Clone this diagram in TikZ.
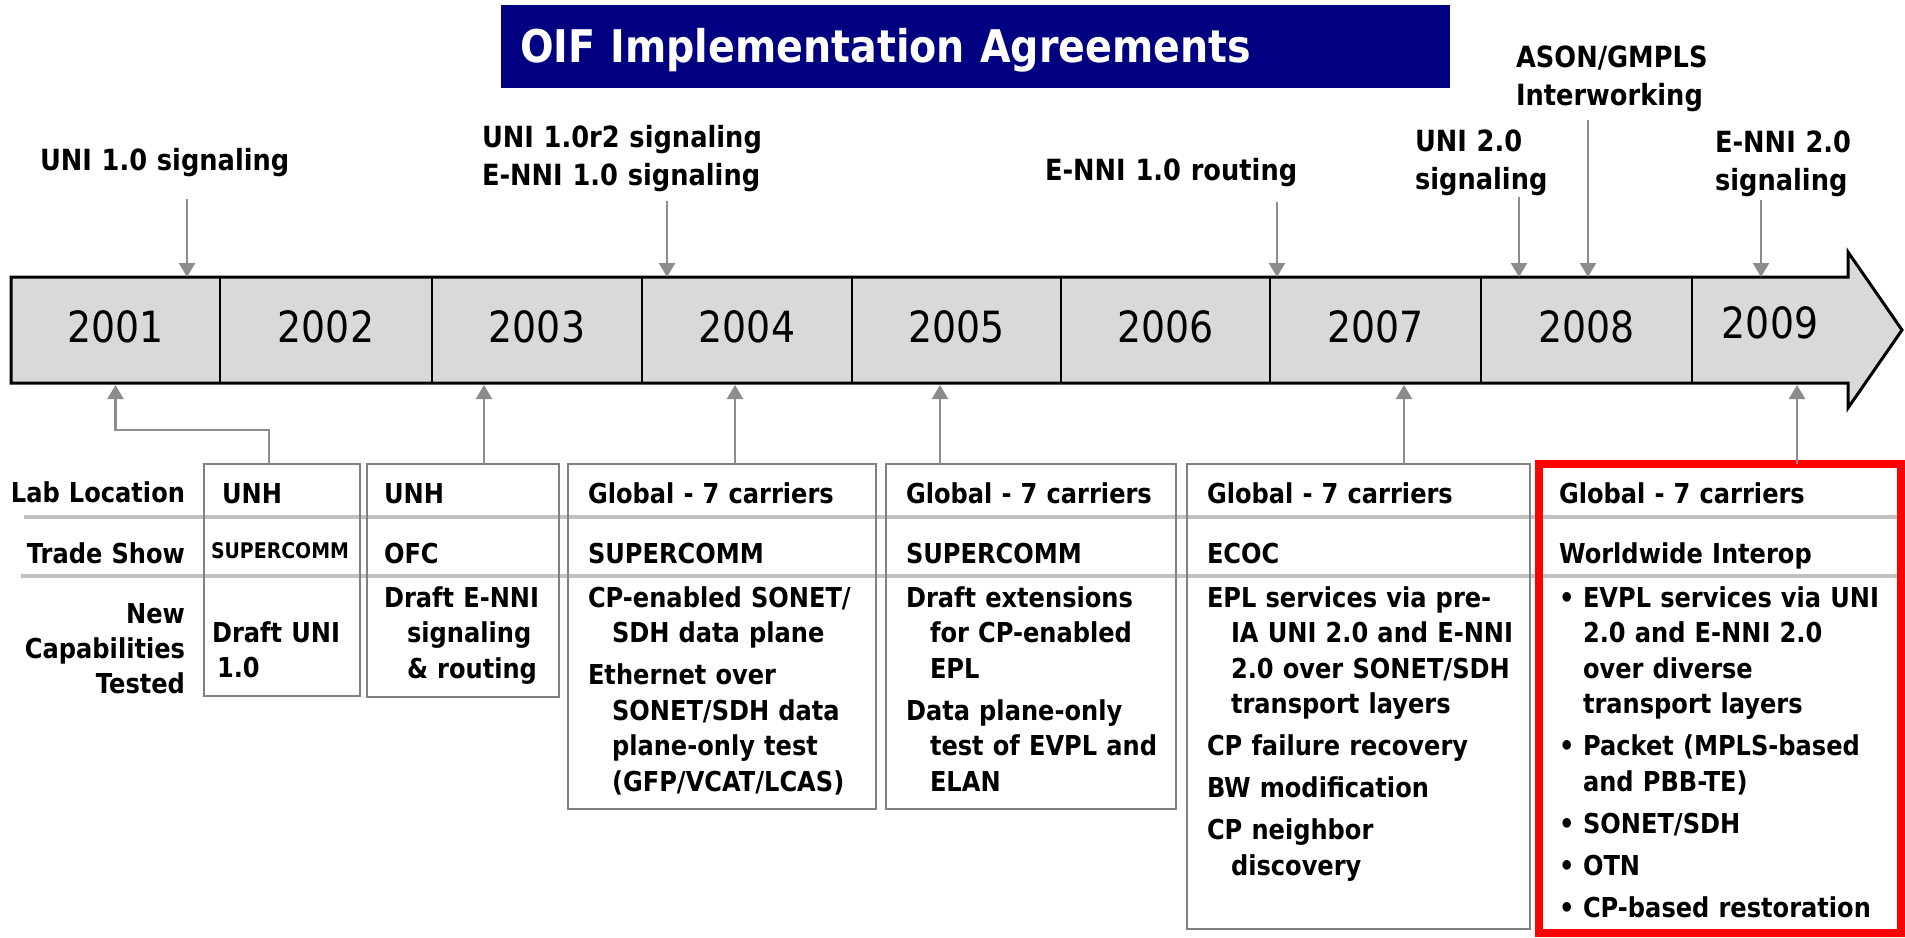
\documentclass[tikz,border=0pt]{standalone}
\usepackage{fontspec}
\setmainfont{DejaVu Sans}[FakeStretch=0.88]
\usepackage{tikz}
\usetikzlibrary{arrows.meta}
\definecolor{oifblue}{RGB}{0,0,128}
\definecolor{barfill}{RGB}{217,217,217}
\definecolor{arrowgray}{RGB}{140,140,140}
\definecolor{boxgray}{RGB}{128,128,128}
\definecolor{rulegray}{RGB}{192,192,192}
\newcommand{\cellind}{\hspace*{24pt}}
\newcommand{\bul}{\makebox[24pt][l]{\textbullet}}
\newcommand{\cellfont}{\fontsize{27.4}{35.5}\selectfont\bfseries}

\begin{document}
\begin{tikzpicture}[x=1pt, y=-1pt,
  every node/.style={inner sep=0pt, outer sep=0pt},
  toplabel/.style={anchor=base west, text width=320pt, align=left, font=\fontsize{29.2}{38}\selectfont\bfseries},
  rowlabel/.style={anchor=base east, text width=180pt, align=right, font=\fontsize{27.4}{35}\selectfont\bfseries},
  celltext/.style={anchor=base west, text width=340pt, align=left, font=\cellfont},
  yearcell/.style={minimum height=106pt, text depth=7pt, font=\fontsize{43}{43}\selectfont},
  tbox/.style={draw=boxgray, line width=2.5pt},
  sepline/.style={draw=rulegray, line width=4pt},
  downarr/.style={draw=arrowgray, line width=2.5pt, -{Triangle[width=16pt,length=14pt]}},
  uparr/.style={downarr, shorten >=2pt}]
\fill[white] (0,0) rectangle (1905,937);
\useasboundingbox (0,0) rectangle (1905,937);

\node[fill=oifblue, text=white, anchor=north west, minimum width=949pt, minimum height=83pt,
  text width=911pt, inner xsep=19pt, align=left, text depth=2pt,
  font=\fontsize{45}{45}\selectfont\bfseries] (title) at (501,5) {OIF Implementation Agreements};

\draw[fill=barfill, line width=3pt] (11,277) -- (1848,277) -- (1848,252) -- (1902,330)
  -- (1848,408) -- (1848,383) -- (11,383) -- cycle;
\foreach \yr/\cx/\w in {2001/115.5/209, 2002/326/212, 2003/537/210, 2004/747/210,
  2005/956.5/209, 2006/1165.5/209, 2007/1375.5/211, 2008/1586.5/211}
  \node[yearcell, minimum width=\w pt] (y\yr) at (\cx,330) {\yr};
\node[yearcell, minimum width=156pt, text depth=14pt] (y2009) at (1770,330) {2009};
\foreach \yr in {2001,...,2008}
  \draw[line width=2.5pt] (y\yr.north east) -- (y\yr.south east);

\node[toplabel] (sigA) at (40,170) {UNI 1.0 signaling};
\node[toplabel] (sigB) at (482,147) {UNI 1.0r2 signaling\\E-NNI 1.0 signaling};
\node[toplabel] (rtgC) at (1045,180) {E-NNI 1.0 routing};
\node[toplabel] (sigD) at (1415,151) {UNI 2.0\\signaling};
\node[toplabel] (iwE) at (1516,67) {ASON/GMPLS\\Interworking};
\node[toplabel] (sigF) at (1715,152) {E-NNI 2.0\\signaling};

\draw[downarr] ([xshift=147pt,yshift=-23pt]sigA.south west) -- ([xshift=147pt]sigA.south west |- y2001.north);
\draw[downarr] ([xshift=185pt,yshift=-9.5pt]sigB.south west) -- ([xshift=185pt]sigB.south west |- y2004.north);
\draw[downarr] ([xshift=232pt,yshift=-15.5pt]rtgC.south west) -- ([xshift=232pt]rtgC.south west |- y2007.north);
\draw[downarr] ([xshift=104pt,yshift=-1.5pt]sigD.south west) -- ([xshift=104pt]sigD.south west |- y2008.north);
\draw[downarr] ([xshift=72pt,yshift=-8.5pt]iwE.south west) -- ([xshift=72pt]iwE.south west |- y2008.north);
\draw[downarr] ([xshift=46pt,yshift=-3.5pt]sigF.south west) -- ([xshift=46pt]sigF.south west |- y2009.north);

\draw[sepline] (24,517) -- (1900,517);
\draw[sepline] (21,576) -- (1900,576);

\node[tbox, minimum width=156pt, minimum height=232pt] (t2001) at (282,580) {};
\node[tbox, minimum width=192pt, minimum height=233pt] (t2003) at (463,580.5) {};
\node[tbox, minimum width=308pt, minimum height=345pt] (t2004) at (722,636.5) {};
\node[tbox, minimum width=290pt, minimum height=345pt] (t2005) at (1031,636.5) {};
\node[tbox, minimum width=343pt, minimum height=465pt] (t2007) at (1358.5,696.5) {};
\node[draw=red, line width=7.5pt, minimum width=362pt, minimum height=469pt] (t2009) at (1720,698.5) {};

\draw[uparr] ([xshift=-13pt]t2001.north) -- ++(0,-34) -| (y2001.south);
\draw[uparr] ([xshift=21pt]t2003.north) -- ([xshift=21pt]t2003.north |- y2003.south);
\draw[uparr] ([xshift=13pt]t2004.north) -- ([xshift=13pt]t2004.north |- y2004.south);
\draw[uparr] ([xshift=-91pt]t2005.north) -- ([xshift=-91pt]t2005.north |- y2005.south);
\draw[uparr] ([xshift=45.5pt]t2007.north) -- ([xshift=45.5pt]t2007.north |- y2007.south);
\draw[uparr] ([xshift=77pt]t2009.north) -- ([xshift=77pt]t2009.north |- y2009.south);

\node[rowlabel] (rlab) at (185,502) {Lab Location};
\node[rowlabel] (rshow) at (185,563) {Trade Show};
\node[rowlabel] (rcap) at (185,623) {New\\Capabilities\\Tested};

\node[celltext] (lab2001) at (222,503) {UNH};
\node[celltext, font=\fontsize{21.5}{26}\selectfont\bfseries] (show2001) at (211,558) {SUPERCOMM};
\node[celltext] (cap2001) at (212,642) {Draft UNI\\\hspace*{5pt}1.0};

\node[celltext] (lab2003) at (384,503) {UNH};
\node[celltext] (show2003) at (384,563) {OFC};
\node[celltext] (cap2003) at (384,607) {Draft E-NNI\\\hspace*{23pt}signaling\\\hspace*{23pt}\& routing};

\node[celltext] (lab2004) at (588,503) {Global - 7 carriers};
\node[celltext] (show2004) at (588,563) {SUPERCOMM};
\node[celltext] (cap2004) at (588,607) {CP-enabled SONET/\\\cellind SDH data plane\\[6.5pt]Ethernet over\\\cellind SONET/SDH data\\\cellind plane-only test\\\cellind (GFP/VCAT/LCAS)};

\node[celltext] (lab2005) at (906,503) {Global - 7 carriers};
\node[celltext] (show2005) at (906,563) {SUPERCOMM};
\node[celltext] (cap2005) at (906,607) {Draft extensions\\\cellind for CP-enabled\\\cellind EPL\\[6.5pt]Data plane-only\\\cellind test of EVPL and\\\cellind ELAN};

\node[celltext] (lab2007) at (1207,503) {Global - 7 carriers};
\node[celltext] (show2007) at (1207,563) {ECOC};
\node[celltext] (cap2007) at (1207,607) {EPL services via pre-\\\cellind IA UNI 2.0 and E-NNI\\\cellind 2.0 over SONET/SDH\\\cellind transport layers\\[6.5pt]CP failure recovery\\[6.5pt]BW modification\\[6.5pt]CP neighbor\\\cellind discovery};

\node[celltext] (lab2009) at (1559,503) {Global - 7 carriers};
\node[celltext] (show2009) at (1559,563) {Worldwide Interop};
\node[celltext] (cap2009) at (1559,607) {\bul EVPL services via UNI\\\cellind 2.0 and E-NNI 2.0\\\cellind over diverse\\\cellind transport layers\\[6.5pt]\bul Packet (MPLS-based\\\cellind and PBB-TE)\\[6.5pt]\bul SONET/SDH\\[6.5pt]\bul OTN\\[6.5pt]\bul CP-based restoration};
\end{tikzpicture}
\end{document}
